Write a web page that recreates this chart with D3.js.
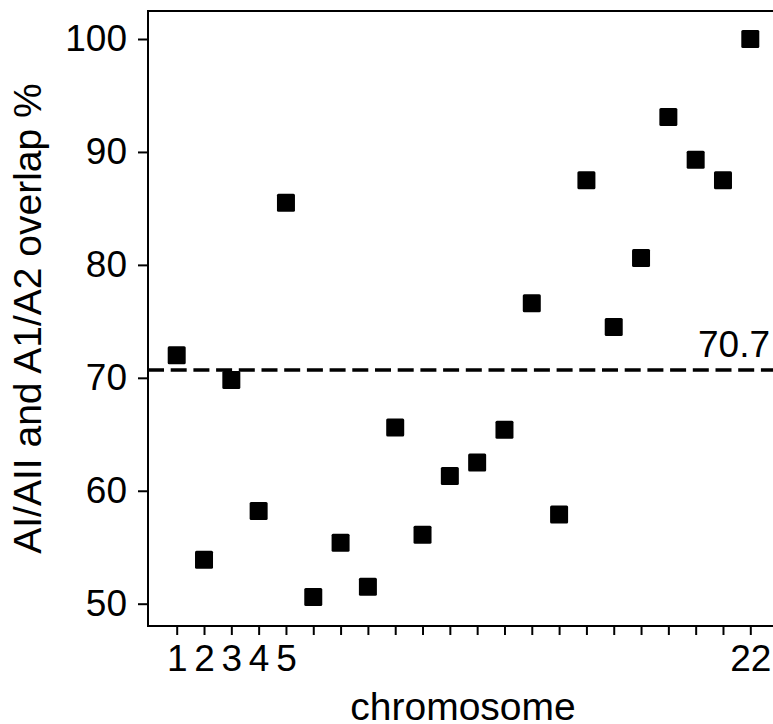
<!DOCTYPE html>
<html>
<head>
<meta charset="utf-8">
<script src="https://cdn.jsdelivr.net/npm/d3@7"></script>
<style>
  html, body { margin: 0; padding: 0; background: #fff; }
  svg { display: block; }
  text { font-family: "Liberation Sans", Arial, Helvetica, sans-serif; fill: #000; }
</style>
</head>
<body>
<svg id="chart" width="773" height="724"></svg>
<script>
// ---- data ----
const chromosomes = [1,2,3,4,5,6,7,8,9,10,11,12,13,14,15,16,17,18,19,20,21,22];
const overlap = [72.0, 53.9, 69.8, 58.2, 85.5, 50.6, 55.4, 51.5, 65.6, 56.1, 61.3,
                 62.5, 65.4, 76.6, 57.9, 87.5, 74.5, 80.6, 93.1, 89.3, 87.5, 100.0];
const meanOverlap = 70.7;
const xTickLabels = [1, 2, 3, 4, 5, 22];
const yTicks = [50, 60, 70, 80, 90, 100];
const xTitle = "chromosome";
const yTitle = "AI/AII and A1/A2 overlap %";

(function () {
// ---- layout ----
const padL = 148, padT = 11, padR = 773, padB = 626;

const x = d3.scaleLinear().domain([1, 22]).range([176.7, 750.3]);
const y = d3.scaleLinear().domain([50, 100]).range([603.7, 39]);

const svg = d3.select("#chart");

// frame lines (top, left, bottom)
svg.append("path")
  .attr("d", `M${padR},${padT}H${padL}V${padB}H${padR}`)
  .attr("fill", "none").attr("stroke", "#000").attr("stroke-width", 2);

// y axis ticks
const yAxis = d3.axisLeft(y).tickValues(yTicks).tickSize(10).tickSizeOuter(0).tickPadding(11);
const gy = svg.append("g").attr("transform", `translate(${padL},0)`).call(yAxis);
gy.attr("font-family", null).attr("font-size", null);
gy.select(".domain").remove();
gy.selectAll(".tick line").attr("stroke", "#000").attr("stroke-width", 2);
gy.selectAll(".tick text").attr("font-size", 37).attr("fill", "#000");

// x axis ticks
const xAxis = d3.axisBottom(x).tickValues(chromosomes).tickSize(9).tickSizeOuter(0).tickPadding(10)
  .tickFormat(d => xTickLabels.includes(d) ? String(d) : "");
const gx = svg.append("g").attr("transform", `translate(0,${padB})`).call(xAxis);
gx.attr("font-family", null).attr("font-size", null);
gx.select(".domain").remove();
gx.selectAll(".tick line").attr("stroke", "#000").attr("stroke-width", 2);
gx.selectAll(".tick text").attr("font-size", 37).attr("fill", "#000");

// dashed mean line
svg.append("line")
  .attr("x1", padL).attr("x2", padR)
  .attr("y1", y(meanOverlap)).attr("y2", y(meanOverlap))
  .attr("stroke", "#000").attr("stroke-width", 3.5)
  .attr("stroke-dasharray", "16,6.7");

svg.append("text")
  .attr("x", 770).attr("y", y(meanOverlap) - 12.6)
  .attr("text-anchor", "end").attr("font-size", 37)
  .text(meanOverlap.toFixed(1));

// points
const sz = 18;
svg.append("g").selectAll("rect")
  .data(chromosomes.map((c, i) => ({c, v: overlap[i]})))
  .join("rect")
  .attr("x", d => x(d.c) - sz / 2)
  .attr("y", d => y(d.v) - sz / 2)
  .attr("width", sz).attr("height", sz)
  .attr("rx", 1.5)
  .attr("fill", "#000");

// titles
svg.append("text")
  .attr("x", 463).attr("y", 720)
  .attr("text-anchor", "middle").attr("font-size", 39)
  .text(xTitle);

svg.append("text")
  .attr("transform", `translate(41,318.5) rotate(-90)`)
  .attr("text-anchor", "middle").attr("font-size", 39)
  .text(yTitle);
})();
</script>
</body>
</html>
